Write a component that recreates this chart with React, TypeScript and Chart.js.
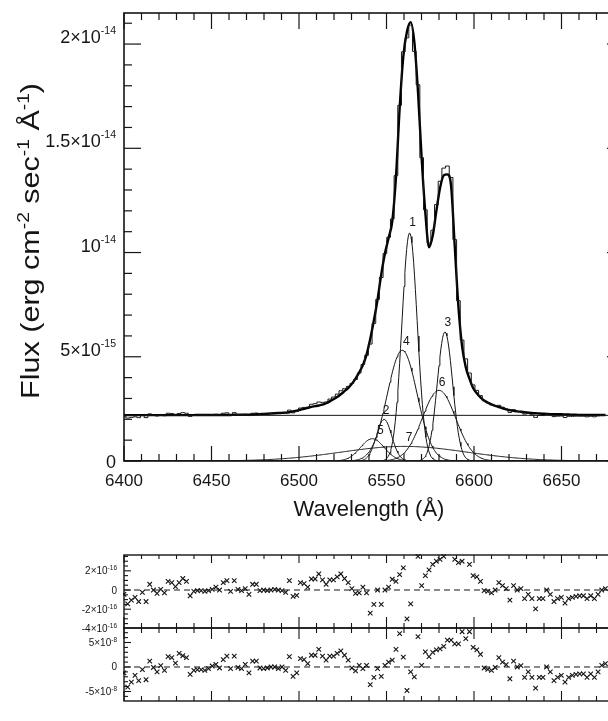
import React, { useEffect, useRef } from "react";
import { Chart, registerables } from "chart.js";
Chart.register(...registerables);

const FONT = '"Liberation Sans", Arial, Helvetica, sans-serif';
const INK = "#151515";

// ---------------- data (flux in 1e-15 erg cm-2 s-1 A-1) ----------------
const X_MIN = 6400;
const X_MAX = 6680;

const wavelengths = [
  6400.0, 6402.1, 6404.2, 6406.3, 6408.4, 6410.5, 6412.6, 6414.7, 6416.8, 6418.9,
  6421.0, 6423.1, 6425.2, 6427.3, 6429.4, 6431.5, 6433.6, 6435.7, 6437.8, 6439.9,
  6442.0, 6444.1, 6446.2, 6448.3, 6450.4, 6452.5, 6454.6, 6456.7, 6458.8, 6460.9,
  6463.0, 6465.1, 6467.2, 6469.3, 6471.4, 6473.5, 6475.6, 6477.7, 6479.8, 6481.9,
  6484.0, 6486.1, 6488.2, 6490.3, 6492.4, 6494.5, 6496.6, 6498.7, 6500.8, 6502.9,
  6505.0, 6507.1, 6509.2, 6511.3, 6513.4, 6515.5, 6517.6, 6519.7, 6521.8, 6523.9,
  6526.0, 6528.1, 6530.2, 6532.3, 6534.4, 6536.5, 6538.6, 6540.7, 6542.8, 6544.9,
  6547.0, 6549.1, 6551.2, 6553.3, 6555.4, 6557.5, 6559.6, 6561.7, 6563.8, 6565.9,
  6568.0, 6570.1, 6572.2, 6574.3, 6576.4, 6578.5, 6580.6, 6582.7, 6584.8, 6586.9,
  6589.0, 6591.1, 6593.2, 6595.3, 6597.4, 6599.5, 6601.6, 6603.7, 6605.8, 6607.9,
  6610.0, 6612.1, 6614.2, 6616.3, 6618.4, 6620.5, 6622.6, 6624.7, 6626.8, 6628.9,
  6631.0, 6633.1, 6635.2, 6637.3, 6639.4, 6641.5, 6643.6, 6645.7, 6647.8, 6649.9,
  6652.0, 6654.1, 6656.2, 6658.3, 6660.4, 6662.5, 6664.6, 6666.7, 6668.8, 6670.9,
  6673.0, 6675.1,
];

const observedFlux = [
  2.16, 2.06, 2.09, 2.12, 2.08, 2.18, 2.08, 2.26, 2.20, 2.16,
  2.21, 2.17, 2.29, 2.28, 2.24, 2.28, 2.32, 2.29, 2.14, 2.19,
  2.20, 2.20, 2.20, 2.20, 2.22, 2.24, 2.21, 2.29, 2.31, 2.20,
  2.32, 2.23, 2.21, 2.24, 2.18, 2.29, 2.30, 2.24, 2.26, 2.26,
  2.28, 2.30, 2.30, 2.30, 2.30, 2.44, 2.31, 2.37, 2.54, 2.57,
  2.58, 2.72, 2.75, 2.83, 2.81, 2.83, 2.97, 3.07, 3.21, 3.37,
  3.47, 3.58, 3.72, 3.91, 4.22, 4.63, 5.07, 5.61, 6.60, 7.75,
  8.80, 9.95, 10.73, 11.61, 13.69, 17.06, 19.63, 20.30, 20.91, 19.65,
  18.05, 14.55, 12.05, 10.46, 11.07, 12.30, 13.42, 14.05, 14.15, 13.60,
  10.62, 7.69, 5.80, 4.90, 4.22, 3.65, 3.39, 3.14, 2.89, 2.79,
  2.69, 2.65, 2.67, 2.58, 2.50, 2.33, 2.46, 2.38, 2.38, 2.25,
  2.28, 2.21, 2.09, 2.19, 2.18, 2.26, 2.21, 2.13, 2.15, 2.16,
  2.09, 2.14, 2.14, 2.15, 2.15, 2.15, 2.12, 2.15, 2.12, 2.17,
  2.21, 2.23,
];

const fitFlux = [
  2.20, 2.20, 2.20, 2.20, 2.20, 2.20, 2.20, 2.20, 2.20, 2.20,
  2.20, 2.20, 2.20, 2.20, 2.20, 2.20, 2.20, 2.20, 2.20, 2.20,
  2.21, 2.21, 2.21, 2.21, 2.21, 2.21, 2.21, 2.21, 2.21, 2.21,
  2.22, 2.22, 2.22, 2.22, 2.22, 2.23, 2.24, 2.25, 2.26, 2.27,
  2.28, 2.29, 2.30, 2.31, 2.32, 2.34, 2.38, 2.42, 2.46, 2.50,
  2.55, 2.60, 2.63, 2.66, 2.70, 2.77, 2.86, 2.96, 3.07, 3.20,
  3.35, 3.50, 3.70, 3.95, 4.25, 4.60, 5.10, 5.85, 6.75, 7.75,
  8.95, 9.95, 10.70, 11.50, 13.60, 16.90, 19.40, 20.60, 21.05, 20.10,
  17.70, 14.50, 11.90, 10.25, 10.80, 12.00, 13.10, 13.70, 13.75, 13.20,
  10.30, 7.40, 5.50, 4.50, 3.95, 3.50, 3.25, 3.05, 2.90, 2.80,
  2.72, 2.65, 2.59, 2.53, 2.48, 2.44, 2.41, 2.38, 2.36, 2.34,
  2.32, 2.30, 2.29, 2.28, 2.27, 2.26, 2.25, 2.25, 2.24, 2.24,
  2.23, 2.23, 2.22, 2.22, 2.21, 2.21, 2.21, 2.21, 2.21, 2.21,
  2.21, 2.21,
];

// residual in units of 1e-16
const residual = [
  -0.45, -1.45, -1.06, -0.76, -1.2, -0.24, -1.2, 0.6, 0, -0.36,
  0.06, -0.3, 0.9, 0.76, 0.36, 0.76, 1.2, 0.9, -0.6, -0.15,
  -0.06, -0.06, -0.15, -0.06, 0.06, 0.3, 0, 0.76, 0.97, -0.15,
  0.97, 0.06, -0.06, 0.15, -0.45, 0.6, 0.6, -0.06, 0, -0.06,
  0, 0.06, 0, -0.06, -0.24, 0.97, -0.67, -0.55, 0.76, 0.67,
  0.3, 1.15, 1.15, 1.67, 1.06, 0.6, 1.06, 1.06, 1.36, 1.67,
  1.2, 0.76, 0.15, -0.36, -0.3, 0.3, -0.3, -2.4, -1.5, 0,
  -1.5, 0, 0.3, 1.12, 0.9, 1.6, 2.3, -3.0, -1.45, -4.5,
  3.5, 0.45, 1.5, 2.1, 2.67, 3.0, 3.2, 3.5, 4.0, 4.0,
  3.2, 2.85, 3.0, 4.0, 2.67, 1.5, 1.36, 0.9, -0.06, -0.15,
  -0.3, 0, 0.76, 0.45, 0.15, -1.06, 0.45, 0, 0.15, -0.9,
  -0.45, -0.9, -1.97, -0.9, -0.9, 0, -0.45, -1.2, -0.9, -0.76,
  -1.36, -0.9, -0.76, -0.67, -0.6, -0.6, -0.9, -0.6, -0.9, -0.45,
  0, 0.15,
];

// residual normalized by sigma (label units)
const residualNorm = [
  -1.2, -4.1, -3.1, -1.7, -2.8, -0.55, -2.6, 1.2, -0.1, -1.0,
  0.3, -0.7, 2.1, 1.9, 0.8, 2.8, 2.3, 1.9, -1.5, -0.7,
  -0.55, -0.55, -0.7, -0.35, 0.2, 0.55, -0.2, 1.5, 2.2, -0.35,
  2.2, -0.1, -0.35, 0.55, -1.2, 1.2, 1.2, -0.2, -0.35, -0.2,
  0, 0, -0.35, 0, -0.7, 2.1, -1.9, -1.2, 1.7, 1.5,
  0.7, 2.4, 2.4, 3.6, 2.2, 1.4, 2.2, 2.2, 2.8, 3.3,
  2.4, 1.4, -0.2, -0.8, 0.35, -0.35, 0.35, -3.6, -2.1, -0.35,
  -1.9, 0.35, 1.0, 1.4, 3.6, 6.8, 2.0, -4.8, -1.0, -2.0,
  6.2, 0.35, 3.1, 2.1, 3.0, 3.5, 3.7, 4.2, 5.5, 5.5,
  4.7, 4.7, 7.2, 5.8, 7.2, 4.0, 3.5, 2.6, -0.2, -0.5,
  -0.7, -0.1, 1.9, 1.0, 0.5, -2.4, 1.2, 0, 0.3, -2.1,
  -1.0, -2.1, -4.3, -2.1, -2.1, 0, -1.0, -2.8, -2.1, -1.7,
  -3.1, -2.1, -1.7, -1.5, -1.4, -1.4, -2.1, -1.4, -2.1, -1.0,
  0.35, 0.7,
];

const continuumLevel = 2.19;

// Gaussian fit components
const compLabels = ["1", "2", "3", "4", "5", "6", "7"];
const compCenter = [6563.2, 6548.6, 6583.4, 6559.0, 6541.9, 6580.0, 6560.0];
const compPeak = [10.94, 2.0, 6.19, 5.31, 1.07, 3.39, 0.7];
const compFwhm = [10.3, 10.3, 10.3, 20.0, 16.0, 22.5, 85.0];

const xMajorTicks = [6400, 6450, 6500, 6550, 6600, 6650];
const xTickLabels = ["6400", "6450", "6500", "6550", "6600", "6650"];
const yMajorTicks = [0, 5, 10, 15, 20];
const yTickBase = ["0", "5×10", "10", "1.5×10", "2×10"];
const yTickSup = ["", "-15", "-14", "-14", "-14"];
const residTicks = [2, 0, -2, -4];
const residTickBase = ["2×10", "0", "-2×10", "-4×10"];
const residTickSup = ["-16", "", "-16", "-16"];
const normTicks = [5, 0, -5];
const normTickBase = ["5×10", "0", "-5×10"];
const normTickSup = ["-8", "", "-8"];

// ---------------- helpers ----------------
type Seg = { t: string; sup?: boolean };

function seg(ctx: CanvasRenderingContext2D, x1: number, y1: number, x2: number, y2: number) {
  ctx.beginPath();
  ctx.moveTo(x1, y1);
  ctx.lineTo(x2, y2);
  ctx.stroke();
}

function supLabel(
  ctx: CanvasRenderingContext2D,
  base: string,
  sup: string,
  x: number,
  y: number,
  align: "right" | "center" | "left",
  baseSize: number,
  supSize: number,
  rise: number
) {
  ctx.font = `${baseSize}px ${FONT}`;
  const wb = ctx.measureText(base).width;
  ctx.font = `${supSize}px ${FONT}`;
  const ws = sup ? ctx.measureText(sup).width : 0;
  const total = wb + ws;
  const x0 = align === "right" ? x - total : align === "center" ? x - total / 2 : x;
  ctx.textAlign = "left";
  ctx.textBaseline = "alphabetic";
  ctx.font = `${baseSize}px ${FONT}`;
  ctx.fillText(base, x0, y);
  if (sup) {
    ctx.font = `${supSize}px ${FONT}`;
    ctx.fillText(sup, x0 + wb, y - rise);
  }
}

function segText(
  ctx: CanvasRenderingContext2D,
  segs: Seg[],
  baseSize: number,
  supSize: number,
  rise: number,
  targetLen: number
) {
  let w = 0;
  for (const s of segs) {
    ctx.font = `${s.sup ? supSize : baseSize}px ${FONT}`;
    w += ctx.measureText(s.t).width;
  }
  const sx = targetLen > 0 ? targetLen / w : 1;
  ctx.save();
  ctx.scale(sx, 1);
  let x = -w / 2;
  ctx.textAlign = "left";
  ctx.textBaseline = "alphabetic";
  for (const s of segs) {
    ctx.font = `${s.sup ? supSize : baseSize}px ${FONT}`;
    ctx.fillText(s.t, x, s.sup ? -rise : 0);
    x += ctx.measureText(s.t).width;
  }
  ctx.restore();
}

function gaussian(x: number, c: number, a: number, fwhm: number) {
  const d = x - c;
  return a * Math.exp((-4 * Math.LN2 * d * d) / (fwhm * fwhm));
}

// ---------------- plugins ----------------
const labelOffsets = [
  [3, -10], [2, -9], [3, -9], [4, -9], [8, -8], [3, -8], [5, -9],
];

const mainDecor = {
  id: "mainDecor",
  afterDatasetsDraw(chart: any) {
    const { ctx, chartArea: a, scales } = chart;
    const xs = scales.x;
    const ys = scales.y;
    ctx.save();
    ctx.strokeStyle = INK;
    ctx.fillStyle = INK;
    ctx.lineWidth = 1.6;
    ctx.strokeRect(a.left, a.top, a.right - a.left, a.bottom - a.top);
    ctx.lineWidth = 1.2;
    for (let v = X_MIN; v <= X_MAX; v += 10) {
      const px = xs.getPixelForValue(v);
      const major = v % 50 === 0;
      seg(ctx, px, a.top, px, a.top + (major ? 16 : 7));
      seg(ctx, px, a.bottom, px, a.bottom - (major ? 15 : 7));
    }
    for (let v = 0; v <= 21; v += 1) {
      const py = ys.getPixelForValue(v);
      const major = v % 5 === 0;
      seg(ctx, a.left, py, a.left + (major ? 17 : 8), py);
      if (major) seg(ctx, a.right, py, a.right - 7, py);
    }
    // x tick labels
    ctx.font = `17px ${FONT}`;
    ctx.textAlign = "center";
    ctx.textBaseline = "alphabetic";
    xMajorTicks.forEach((v, i) => {
      ctx.fillText(xTickLabels[i], xs.getPixelForValue(v), 486);
    });
    // y tick labels
    yMajorTicks.forEach((v, i) => {
      const py = ys.getPixelForValue(v);
      const sup = yTickSup[i];
      supLabel(ctx, yTickBase[i], sup, 116, sup ? py - 1 : py + 6.5, "right", 18, 10.5, 9);
    });
    // component numbers
    ctx.font = `12px ${FONT}`;
    ctx.textAlign = "center";
    ctx.textBaseline = "middle";
    compLabels.forEach((lab, i) => {
      const px = xs.getPixelForValue(compCenter[i]) + labelOffsets[i][0];
      const py = ys.getPixelForValue(compPeak[i]) + labelOffsets[i][1];
      ctx.fillText(lab, px, py);
    });
    // axis titles
    ctx.save();
    ctx.translate(369, 516);
    segText(ctx, [{ t: "Wavelength (Å)" }], 22, 14, 0, 0);
    ctx.restore();
    ctx.save();
    ctx.translate(39, 241);
    ctx.rotate(-Math.PI / 2);
    segText(
      ctx,
      [
        { t: "Flux (erg cm" },
        { t: "-2", sup: true },
        { t: " sec" },
        { t: "-1", sup: true },
        { t: " Å" },
        { t: "-1", sup: true },
        { t: ")" },
      ],
      25.5,
      16,
      10.5,
      316
    );
    ctx.restore();
    ctx.restore();
  },
};

function residDecor(kind: "A" | "B") {
  return {
    id: "residDecor" + kind,
    afterDatasetsDraw(chart: any) {
      const { ctx, chartArea: a, scales } = chart;
      const xs = scales.x;
      const ys = scales.y;
      ctx.save();
      ctx.strokeStyle = INK;
      ctx.fillStyle = INK;
      ctx.lineWidth = 1.4;
      ctx.strokeRect(a.left, a.top, a.right - a.left, a.bottom - a.top);
      ctx.lineWidth = 1.1;
      for (let v = X_MIN; v <= X_MAX; v += 10) {
        const px = xs.getPixelForValue(v);
        const major = v % 50 === 0;
        if (kind === "A") {
          seg(ctx, px, a.top, px, a.top + (major ? 8 : 4));
          seg(ctx, px, a.bottom - (major ? 11 : 5), px, a.bottom + (major ? 11 : 5));
        } else {
          seg(ctx, px, a.bottom, px, a.bottom - (major ? 10 : 5));
        }
      }
      const lo = ys.min;
      const hi = ys.max;
      const step = kind === "A" ? 0.5 : 1;
      for (let v = Math.ceil(lo / step) * step; v <= hi; v += step) {
        const py = ys.getPixelForValue(v);
        const major = kind === "A" ? Math.abs(v % 2) < 1e-6 : Math.abs(v % 5) < 1e-6;
        seg(ctx, a.left, py, a.left + (major ? 7 : 4), py);
        if (major) seg(ctx, a.right, py, a.right - 5, py);
      }
      const ticks = kind === "A" ? residTicks : normTicks;
      const bases = kind === "A" ? residTickBase : normTickBase;
      const sups = kind === "A" ? residTickSup : normTickSup;
      ticks.forEach((v, i) => {
        const py = ys.getPixelForValue(v);
        supLabel(ctx, bases[i], sups[i], 117, py + 3.5, "right", 10, 6.5, 4);
      });
      ctx.font = `10.5px ${FONT}`;
      ctx.textAlign = "left";
      ctx.textBaseline = "alphabetic";
      if (kind === "A") {
        ctx.fillText("residual'", 138, 569);
      } else {
        ctx.fillText("normalized by sigma", 134, 648);
        ctx.font = `11px ${FONT}`;
        ctx.textAlign = "center";
        xMajorTicks.forEach((v, i) => {
          ctx.fillText(xTickLabels[i], xs.getPixelForValue(v), 715);
        });
      }
      ctx.restore();
    },
  };
}

// ---------------- component ----------------
export default function App() {
  const mainRef = useRef<HTMLCanvasElement>(null);
  const resRef = useRef<HTMLCanvasElement>(null);
  const normRef = useRef<HTMLCanvasElement>(null);

  useEffect(() => {
    const modelX: number[] = [];
    for (let w = X_MIN; w <= X_MAX; w += 0.5) modelX.push(w);

    const compSets = compLabels.map((lab, i) => ({
      label: "comp " + lab,
      data: modelX.map((w) => ({ x: w, y: gaussian(w, compCenter[i], compPeak[i], compFwhm[i]) })),
      borderColor: INK,
      borderWidth: 1,
      pointRadius: 0,
      tension: 0,
    }));

    const baseOpts = (pad: any, yMin: number, yMax: number) => ({
      responsive: false,
      animation: false as const,
      events: [] as any[],
      layout: { padding: pad },
      plugins: { legend: { display: false }, tooltip: { enabled: false } },
      scales: {
        x: { type: "linear" as const, min: X_MIN, max: X_MAX, display: false },
        y: { type: "linear" as const, min: yMin, max: yMax, display: false },
      },
    });

    const main = new Chart(mainRef.current!, {
      type: "line",
      data: {
        datasets: [
          {
            label: "continuum",
            data: [
              { x: X_MIN, y: continuumLevel },
              { x: X_MAX, y: continuumLevel },
            ],
            borderColor: INK,
            borderWidth: 1,
            pointRadius: 0,
          },
          ...compSets,
          {
            label: "observed",
            data: wavelengths.map((w, i) => ({ x: w, y: observedFlux[i] })),
            borderColor: INK,
            borderWidth: 1,
            pointRadius: 0,
            stepped: "middle",
          },
          {
            label: "fit",
            data: wavelengths.map((w, i) => ({ x: w, y: fitFlux[i] })),
            borderColor: "#000",
            borderWidth: 2.4,
            pointRadius: 0,
            cubicInterpolationMode: "monotone",
          },
        ] as any,
      },
      options: baseOpts({ left: 124, right: 16, top: 13, bottom: 69 }, 0, 21.49) as any,
      plugins: [mainDecor],
    });

    const mkResid = (canvas: HTMLCanvasElement, values: number[], kind: "A" | "B", pad: any, yMin: number, yMax: number) =>
      new Chart(canvas, {
        type: "line",
        data: {
          datasets: [
            {
              label: "zero",
              data: [
                { x: X_MIN, y: 0 },
                { x: X_MAX, y: 0 },
              ],
              borderColor: INK,
              borderWidth: 1,
              borderDash: [6, 4],
              pointRadius: 0,
            },
            {
              label: kind === "A" ? "residual" : "normalized",
              data: wavelengths.map((w, i) => ({ x: w, y: values[i] })),
              showLine: false,
              pointStyle: "crossRot",
              pointRadius: 3.2,
              pointBorderWidth: 1.1,
              borderColor: INK,
              backgroundColor: INK,
              clip: 1,
            },
          ] as any,
        },
        options: baseOpts(pad, yMin, yMax) as any,
        plugins: [residDecor(kind)],
      });

    const res = mkResid(resRef.current!, residual, "A", { left: 124, right: 16, top: 15, bottom: 12 }, -3.96, 3.65);
    const norm = mkResid(normRef.current!, residualNorm, "B", { left: 124, right: 16, top: 8, bottom: 20 }, -6.94, 7.96);

    return () => {
      main.destroy();
      res.destroy();
      norm.destroy();
    };
  }, []);

  return (
    <div
      style={{
        position: "absolute",
        left: 0,
        top: 0,
        width: 608,
        height: 721,
        overflow: "hidden",
        background: "#fff",
      }}
    >
      <canvas ref={mainRef} width={630} height={530} style={{ position: "absolute", left: 0, top: 0 }} />
      <canvas ref={resRef} width={630} height={100} style={{ position: "absolute", left: 0, top: 540 }} />
      <canvas ref={normRef} width={630} height={101} style={{ position: "absolute", left: 0, top: 620 }} />
    </div>
  );
}
